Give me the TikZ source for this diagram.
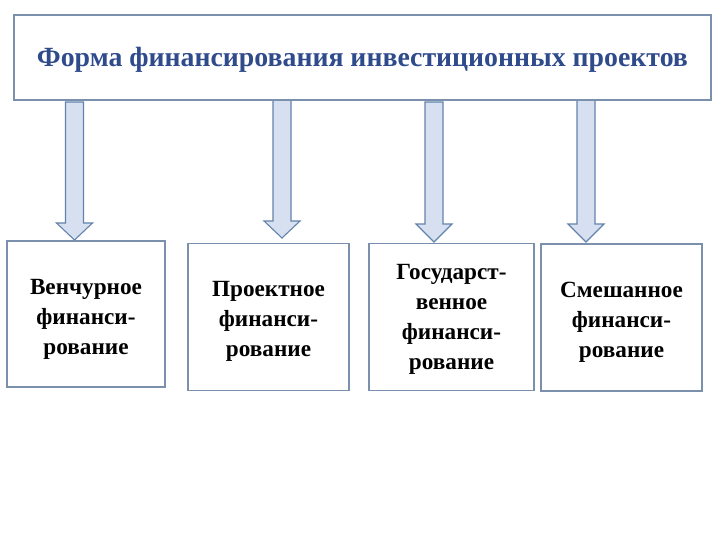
\documentclass[tikz,border=0pt]{standalone}
\usepackage{fontspec}
\setmainfont{Liberation Serif}
\definecolor{titleblue}{HTML}{2F4B8C}
\definecolor{boxline}{HTML}{7A90AC}
\definecolor{arrowline}{HTML}{6383AA}
\definecolor{arrowfill}{HTML}{D6E0F0}
\tikzset{
  formbox/.style={draw=boxline, line width=1.3pt, align=center, inner sep=0pt, font=\fontsize{23.2}{30}\selectfont\bfseries},
  blockarrow/.style={draw=arrowline, fill=arrowfill, line width=1.1pt, line join=miter}
}
\begin{document}
\begin{tikzpicture}[x=1pt,y=-1pt]
\useasboundingbox (0,0) rectangle (720,540);
% block arrows (x of shaft, top, head base, tip)
\foreach \xc/\yt/\yb/\ytip in {74.5/102/223/240, 282/100/221/238, 434/102/224/242, 586/100/224/242}
  \draw[blockarrow] (\xc-9,\yt) -- (\xc+9,\yt) -- (\xc+9,\yb) -- (\xc+18,\yb) -- (\xc,\ytip) -- (\xc-18,\yb) -- (\xc-9,\yb) -- cycle;
\node[draw=boxline, line width=1.6pt, minimum width=697pt, minimum height=85pt, inner sep=0pt, text=titleblue, font=\fontsize{27.8}{30}\selectfont\bfseries, text height=25pt, text depth=6pt] (title) at (362.5,57.5) {Форма финансирования инвестиционных проектов};
\node[formbox, minimum width=158pt, minimum height=146pt] (venture) at (86,314) {\rule{0pt}{25pt}Венчурное\\финанси-\\рование};
\node[formbox, minimum width=161pt, minimum height=147pt] (project) at (268.5,317) {\rule{0pt}{23pt}Проектное\\финанси-\\рование};
\node[formbox, minimum width=165pt, minimum height=147pt] (state) at (451.5,317) {\rule{0pt}{20pt}Государст-\\венное\\финанси-\\рование};
\node[formbox, minimum width=161pt, minimum height=147pt] (mixed) at (621.5,317.5) {\rule{0pt}{25pt}Смешанное\\финанси-\\рование};
\end{tikzpicture}
\end{document}
